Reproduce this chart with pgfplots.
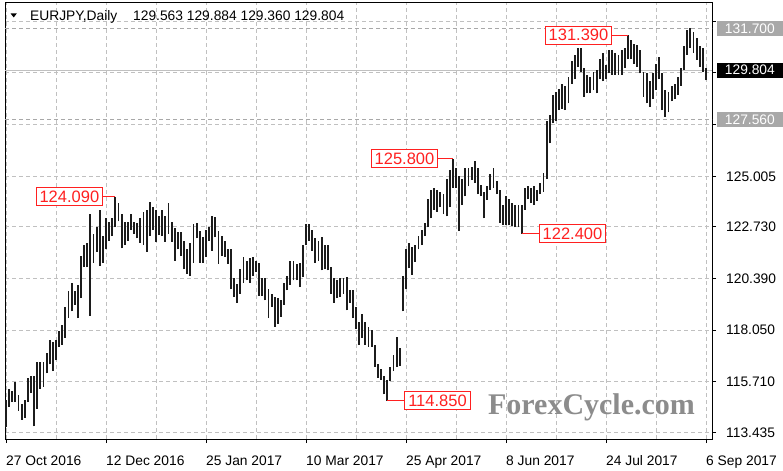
\documentclass[border=0pt]{standalone}
\usepackage{fontspec}
\setmainfont{Liberation Sans}
\newfontfamily\wmfont{Liberation Serif}
\usepackage{pgfplots}
\pgfplotsset{compat=1.18}
\usepackage{pgfplotstable}

\definecolor{gridc}{HTML}{C0C0C0}
\definecolor{barc}{HTML}{1C1C1C}
\definecolor{lvl}{HTML}{A8A8A8}
\definecolor{wm}{HTML}{8C8C8C}
\definecolor{lblred}{HTML}{FF2020}

\pgfplotstableread{
i lo hi
0 113.69 114.91
1 114.6 115.4
2 114.8 115.3
3 114.8 115.7
4 114.4 115.1
5 114.0 114.7
6 114.1 114.9
7 114.8 115.9
8 115.2 116.0
9 113.7 116.0
10 114.5 116.6
11 115.4 116.6
12 115.5 116.6
13 116.1 117.0
14 116.5 117.6
15 116.2 117.5
16 116.7 117.6
17 117.3 118.0
18 117.4 118.3
19 117.7 119.1
20 118.6 119.8
21 118.9 120.2
22 119.2 119.8
23 118.6 120.1
24 119.5 121.4
25 120.9 121.9
26 120.9 122.0
27 118.7 123.3
28 121.1 122.4
29 121.6 122.7
30 120.96 123.5
31 121.1 122.3
32 121.7 123.1
33 122.1 122.96
34 122.3 123.1
35 122.7 124.09
36 122.97 123.8
37 121.75 123.3
38 121.9 122.96
39 122.1 122.96
40 122.6 123.3
41 122.4 122.96
42 122.2 122.9
43 122.0 123.1
44 121.9 123.4
45 121.6 123.5
46 122.3 123.85
47 122.6 123.6
48 122.05 123.5
49 122.35 123.2
50 122.3 123.5
51 122.05 123.2
52 122.4 123.8
53 122.05 122.95
54 121.2 122.65
55 121.7 122.5
56 121.4 122.5
57 120.8 122.1
58 120.6 121.7
59 120.5 122.0
60 121.1 122.85
61 122.2 122.9
62 121.1 122.55
63 121.1 122.25
64 121.35 122.6
65 122.1 122.7
66 121.65 123.2
67 122.25 123.15
68 121.05 122.55
69 121.4 122.3
70 121.35 122.1
71 121.05 121.7
72 119.9 121.7
73 119.55 120.4
74 119.3 120.15
75 119.7 120.8
76 120.2 121.35
77 120.3 121.2
78 120.2 121.3
79 120.5 121.35
80 120.7 121.2
81 119.6 121.1
82 119.6 120.4
83 119.4 120.4
84 118.6 119.9
85 119.1 119.7
86 118.2 119.55
87 118.35 119.5
88 118.65 119.4
89 119.2 120.2
90 119.85 120.5
91 120.1 121.2
92 120.3 121.2
93 120.3 121.05
94 120.0 121.1
95 120.45 121.9
96 121.9 122.85
97 122.1 122.85
98 121.65 122.6
99 121.1 122.2
100 121.2 122.1
101 120.75 122.25
102 120.8 121.9
103 120.75 121.9
104 119.7 120.9
105 119.3 120.4
106 119.5 120.3
107 119.55 120.4
108 119.7 120.4
109 118.95 120.45
110 119.3 119.85
111 118.6 119.85
112 118.1 119.1
113 117.4 118.4
114 117.7 118.8
115 117.4 118.4
116 117.3 118.2
117 117.3 118.05
118 116.4 117.4
119 115.9 116.5
120 115.8 116.3
121 115.15 116.0
122 114.85 115.8
123 115.75 116.4
124 116.2 116.95
125 116.4 117.75
126 116.45 117.25
127 118.9 120.5
128 119.9 121.7
129 120.85 121.98
130 120.55 121.8
131 121.15 121.9
132 121.7 122.3
133 121.9 122.6
134 122.3 122.9
135 122.7 124.0
136 123.1 124.4
137 123.5 124.5
138 123.4 124.4
139 123.6 124.3
140 123.3 124.2
141 123.2 124.9
142 123.6 125.3
143 124.5 125.8
144 124.5 125.4
145 122.55 125.0
146 123.7 124.9
147 124.1 125.4
148 124.55 125.4
149 124.85 125.45
150 124.7 125.72
151 124.2 125.4
152 124.1 124.6
153 123.1 124.3
154 123.95 124.55
155 124.4 125.1
156 124.5 125.4
157 124.2 124.8
158 122.9 124.4
159 122.8 123.7
160 122.8 124.1
161 122.8 124.0
162 122.75 123.8
163 122.7 123.7
164 122.7 123.7
165 122.4 123.7
166 123.5 124.5
167 123.96 124.55
168 123.8 124.5
169 123.7 124.55
170 123.9 124.4
171 124.2 124.7
172 124.3 125.15
173 124.9 127.5
174 126.5 127.8
175 127.4 128.7
176 127.5 128.8
177 128.0 128.95
178 128.05 129.2
179 128.0 129.1
180 128.3 129.5
181 129.2 130.2
182 129.4 130.5
183 129.96 130.8
184 129.7 130.8
185 128.6 129.9
186 128.76 129.6
187 128.76 129.5
188 128.9 129.7
189 128.76 129.8
190 129.4 130.3
191 129.3 130.6
192 129.4 130.04
193 129.66 130.7
194 129.6 130.7
195 129.6 130.6
196 129.6 130.5
197 129.6 130.7
198 129.9 130.8
199 130.3 131.39
200 130.3 131.17
201 130.1 131.0
202 129.96 130.94
203 129.66 130.7
204 128.6 129.7
205 128.3 129.66
206 128.16 129.3
207 128.5 129.66
208 128.9 130.1
209 129.4 130.4
210 128.0 129.66
211 127.7 128.9
212 127.9 128.8
213 128.4 129.1
214 128.5 129.2
215 128.7 129.5
216 129.1 129.9
217 129.8 130.9
218 130.5 131.6
219 130.8 131.7
220 130.6 131.55
221 130.27 131.25
222 129.96 130.9
223 129.7 130.8
224 129.36 129.884
}\bars

\begin{document}
\begin{tikzpicture}
\fill[white] (0,0) rectangle (783bp,471bp);
\path[use as bounding box] (0,0) rectangle (783bp,471bp);
\begin{axis}[
  at={(5bp,32bp)}, anchor=south west, scale only axis,
  width=707bp, height=436bp,
  xmin=-0.32, xmax=225.92, ymin=113.131, ymax=132.842,
  axis line style={black, line width=1bp},
  tick align=outside, major tick length=4bp, minor tick length=0pt,
  tick style={black, line width=1bp},
  xtick pos=left, ytick pos=right, yticklabel pos=right,
  xtick={0,32,64,96,128,160,192,224},
  xticklabels={27 Oct 2016,12 Dec 2016,25 Jan 2017,10 Mar 2017,25 Apr 2017,8 Jun 2017,24 Jul 2017,6 Sep 2017},
  minor xtick={16,48,80,112,144,176,208},
  ytick={113.435,115.710,118.050,120.390,122.730,125.005,127.345,129.685,132.025},
  yticklabels={113.435,115.710,118.050,120.390,122.730,125.005,{},{},{}},
  xmajorgrids, xminorgrids, ymajorgrids,
  grid style={gridc, line width=1bp, dash pattern=on 4bp off 3bp},
  minor grid style={gridc, line width=1bp, dash pattern=on 4bp off 3bp},
  ticklabel style={font=\fontsize{13.8bp}{16bp}\selectfont, inner sep=0pt},
  xticklabel style={anchor=base west, yshift=-22bp},
  yticklabel style={anchor=west, xshift=10bp},
  clip=false,
]
% level lines
\draw[lvl, line width=1bp, dash pattern=on 4bp off 3bp] (axis cs:-0.32,131.7) -- (axis cs:225.92,131.7);
\draw[lvl, line width=1bp, dash pattern=on 4bp off 3bp] (axis cs:-0.32,127.56) -- (axis cs:225.92,127.56);
\draw[gridc, line width=1bp] (axis cs:-0.32,129.804) -- (axis cs:225.92,129.804);

% price bars
\addplot[draw=none, mark=none, forget plot,
  error bars/.cd, y dir=plus, y explicit, error mark=none,
  error bar style={draw=barc, line width=1.8bp, solid}]
  table[x=i, y=lo, y error expr=\thisrow{hi}-\thisrow{lo}] {\bars};

% watermark
\node[anchor=base west, inner sep=0, text=wm, font=\wmfont\bfseries\fontsize{30bp}{32bp}\selectfont] at (axis cs:154.2,114.22) {ForexCycle.com};

% red price labels
\tikzset{pl/.style={draw=lblred, fill=white, text=lblred, line width=1bp, minimum width=66bp, minimum height=18bp, inner sep=0pt, font=\fontsize{16.5bp}{18bp}\selectfont}}
\draw[lblred, line width=1bp] (axis cs:35,124.09) -- (axis cs:31.0,124.09);
\node[pl, anchor=east] at (axis cs:31.0,124.09) {124.090};
\draw[lblred, line width=1bp] (axis cs:143,125.8) -- (axis cs:138.24,125.8);
\node[pl, anchor=east] at (axis cs:138.24,125.8) {125.800};
\draw[lblred, line width=1bp] (axis cs:122,114.85) -- (axis cs:127.36,114.85);
\node[pl, anchor=west] at (axis cs:127.36,114.85) {114.850};
\draw[lblred, line width=1bp] (axis cs:165,122.4) -- (axis cs:170.56,122.4);
\node[pl, anchor=west] at (axis cs:170.56,122.4) {122.400};
\draw[lblred, line width=1bp] (axis cs:199,131.39) -- (axis cs:193.92,131.39);
\node[pl, anchor=east] at (axis cs:193.92,131.39) {131.390};

% right-side price boxes
\tikzset{pb/.style={minimum width=66bp, minimum height=15bp, inner sep=0pt, anchor=west, text=white, font=\fontsize{13.8bp}{16bp}\selectfont}}
\node[pb, fill=lvl] at ([xshift=4.7bp]axis cs:225.92,131.7) {131.700};
\node[pb, fill=lvl] at ([xshift=4.7bp]axis cs:225.92,127.56) {127.560};
\node[pb, fill=black] at ([xshift=4.7bp]axis cs:225.92,129.804) {129.804};
\end{axis}
% header
\fill[black] (10.5bp,457.7bp) -- (16.9bp,457.7bp) -- (13.7bp,453.5bp) -- cycle;
\node[anchor=base west, inner sep=0pt, font=\fontsize{13.8bp}{16bp}\selectfont] at (30bp,450bp) {EURJPY,Daily};
\node[anchor=base west, inner sep=0pt, font=\fontsize{13.8bp}{16bp}\selectfont] at (133bp,450bp) {129.563 129.884 129.360 129.804};
\end{tikzpicture}
\end{document}
